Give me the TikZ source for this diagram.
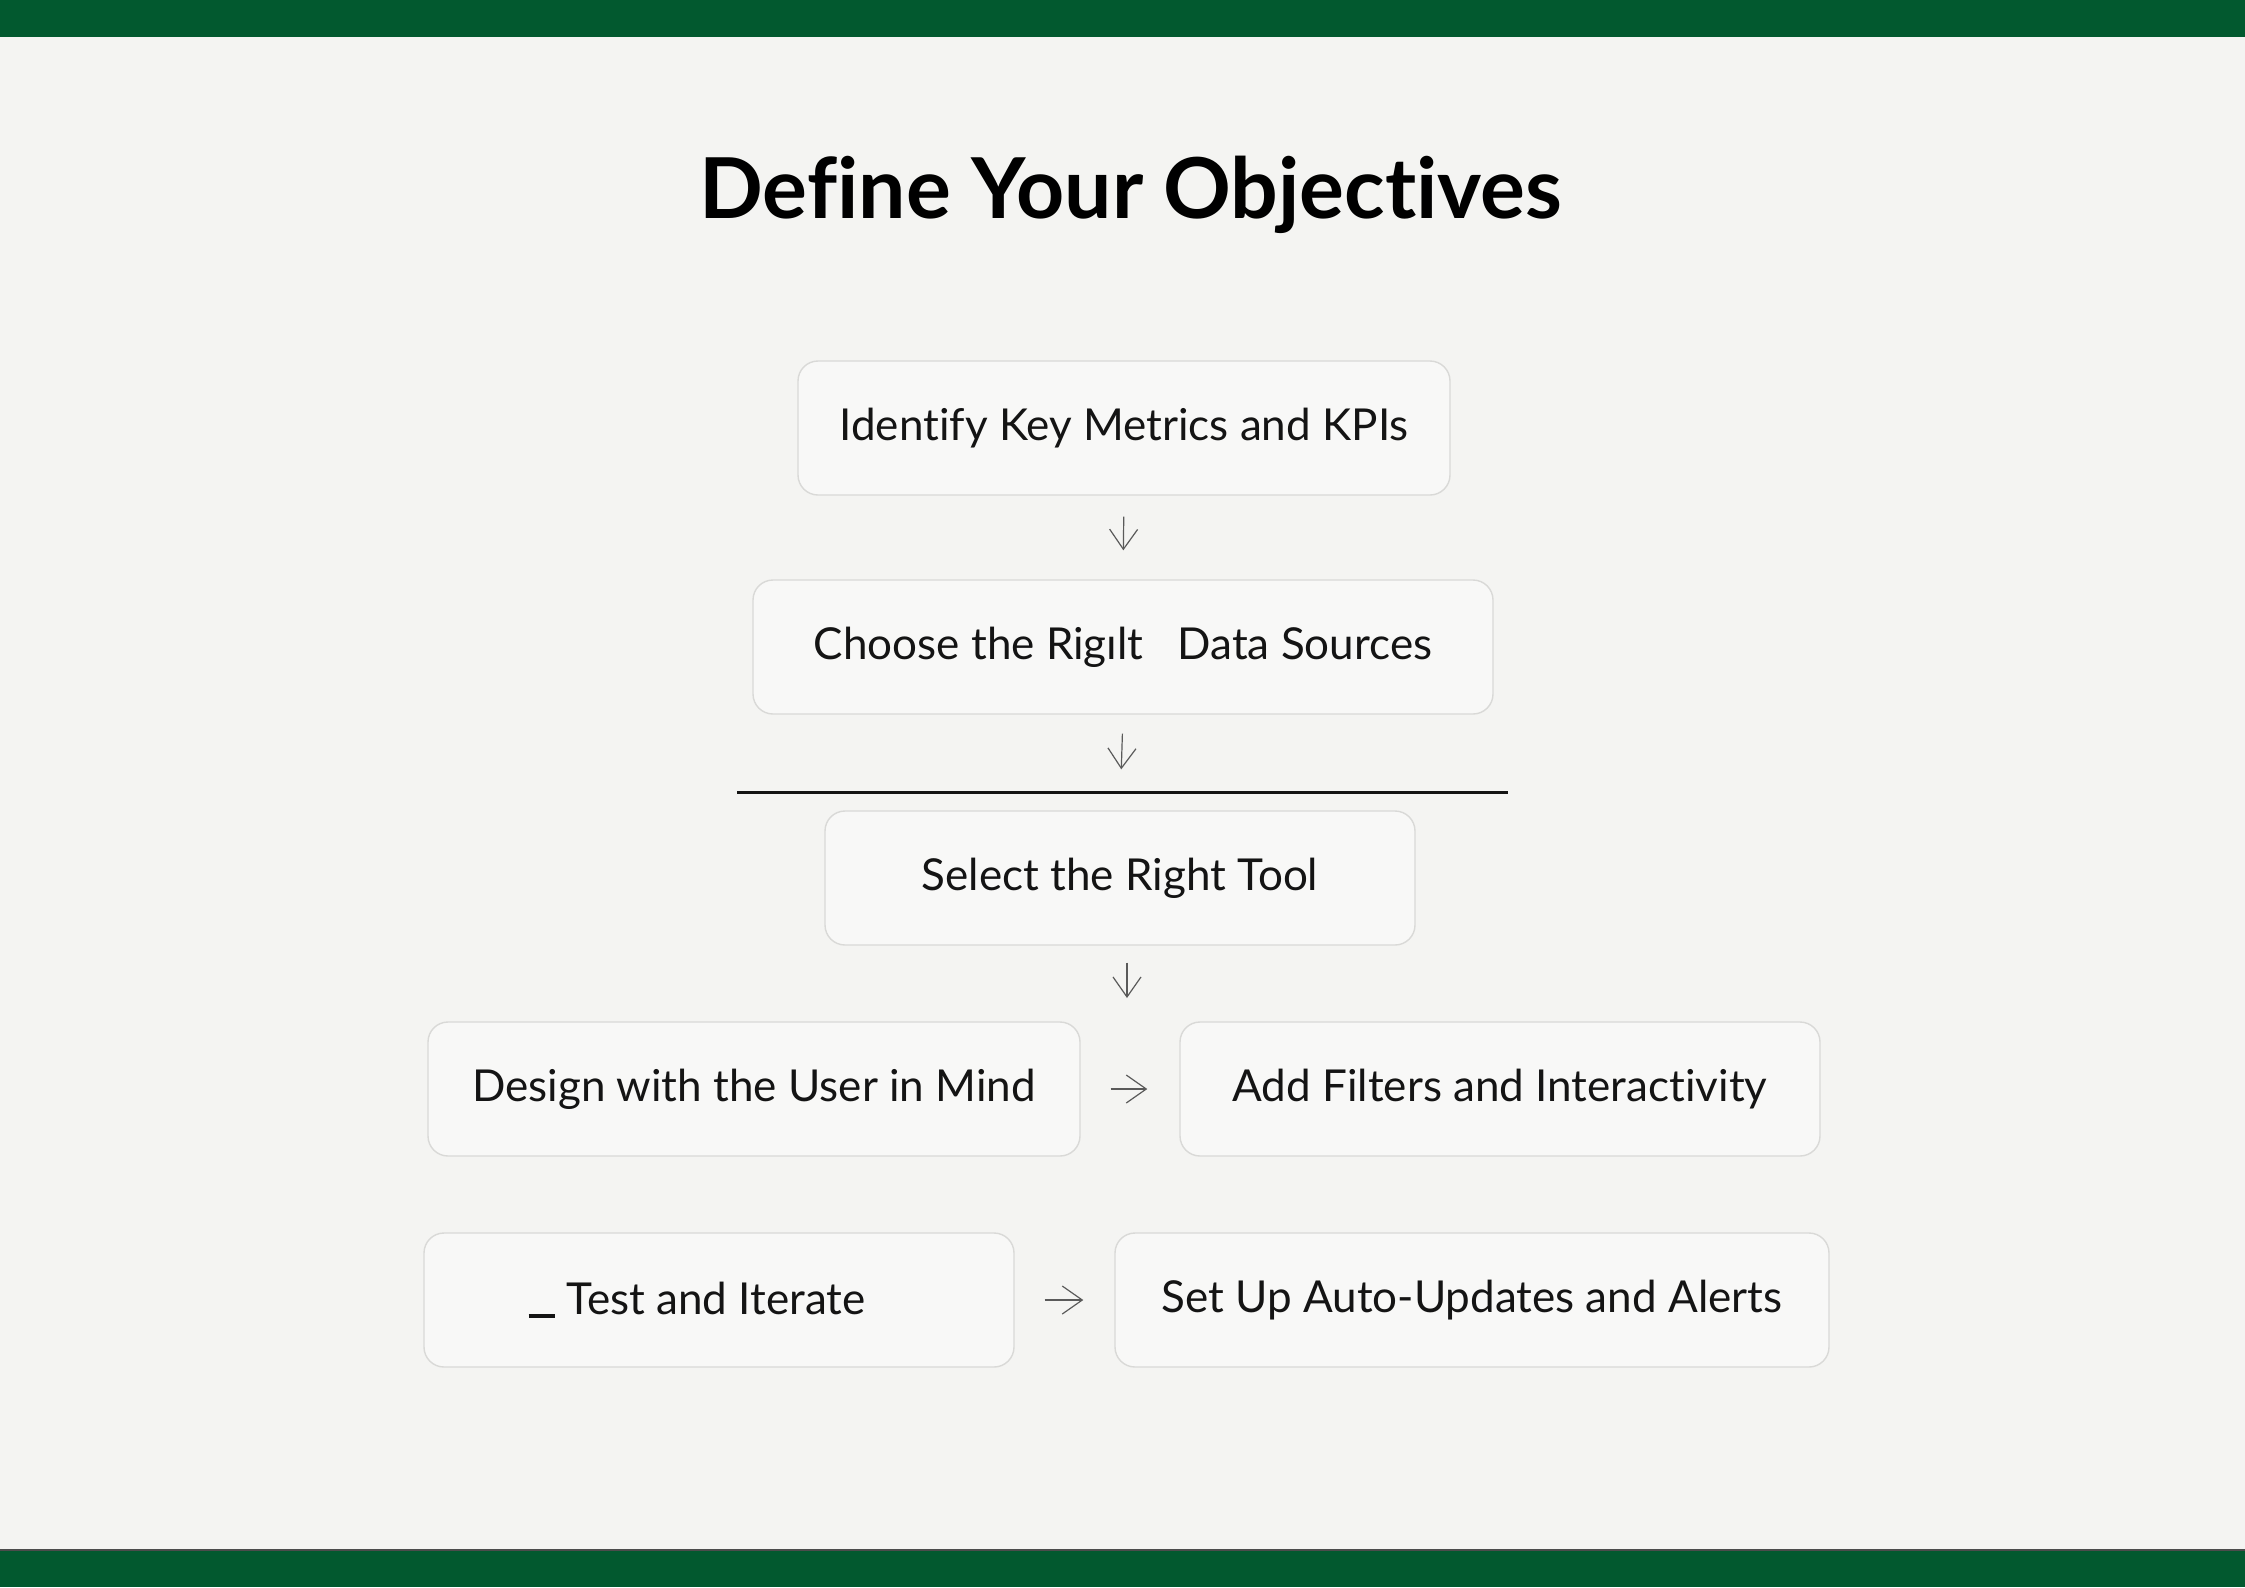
\documentclass[tikz,border=0pt]{standalone}
\usepackage{fontspec}
\setmainfont{Lato}[Ligatures=NoCommon]
\usetikzlibrary{arrows.meta}
\definecolor{bandgreen}{HTML}{02592F}
\definecolor{paper}{HTML}{F4F4F2}
\definecolor{boxline}{HTML}{D9D9D7}
\definecolor{ink}{HTML}{141414}
\definecolor{arrowgray}{HTML}{5A5A5A}

\begin{document}
\begin{tikzpicture}[x=0.5pt,y=-0.5pt,
  stepbox/.style={draw=boxline,line width=0.7pt,fill=paper!60!white,rounded corners=10pt,minimum height=67pt,text=ink,font=\fontsize{22}{26}\selectfont},
  arr/.style={draw=arrowgray,line width=0.6pt,-{Straight Barb[length=10pt,width=14pt]}}]
\useasboundingbox (0,0) rectangle (2245,1587);
\fill[paper] (0,0) rectangle (2245,1587);
\fill[bandgreen] (0,0) rectangle (2245,37);
\fill[bandgreen] (0,1550) rectangle (2245,1587);
\draw[gray!60!black,line width=1pt] (0,1550) -- (2245,1550);
\node[font=\fontsize{42}{50}\selectfont\bfseries,text=black] (title) at (1131,195) {Define Your Objectives};
\node[stepbox,minimum width=326pt] (s1) at (1124,428) {Identify Key Metrics and KPIs};
\node[stepbox,minimum width=370pt] (s2) at (1123,647) {Choose the Rigılt\hspace{17pt}Data Sources};
\node[stepbox,minimum width=295pt] (s3) at (1120,878) {Select the Right Tool};
\node[stepbox,minimum width=326pt] (s4) at (754,1089) {Design with the User in Mind};
\node[stepbox,minimum width=320pt] (s5) at (1500,1089) {Add Filters and Interactivity};
\node[stepbox,minimum width=295pt] (s6) at (719,1300) {\rule[-1.5pt]{13pt}{1.8pt}\hspace{6pt}Test and Iterate\hspace{22pt}\mbox{}};
\node[stepbox,minimum width=357pt] (s7) at (1472,1300) {Set Up Auto-Updates and Alerts};
\coordinate (l0) at (737,792);
\coordinate (l1) at (1508,792);
\coordinate (c3) at (1127,998);
\draw[ink,line width=1.5pt] (l0) -- (l1);
\draw[arr,shorten <=10.5pt,shorten >=14.5pt] (s1.south) -- (s2.north);
\draw[arr,shorten <=9.5pt,shorten >=20.5pt] (s2.south) -- (s3.north);
\draw[arr,shorten <=8.5pt] (s3.south -| c3) -- (c3);
\draw[arr,shorten <=15pt,shorten >=16pt] (s4.east) -- (s5.west);
\draw[arr,shorten <=15pt,shorten >=15.5pt] (s6.east) -- (s7.west);
\end{tikzpicture}
\end{document}
